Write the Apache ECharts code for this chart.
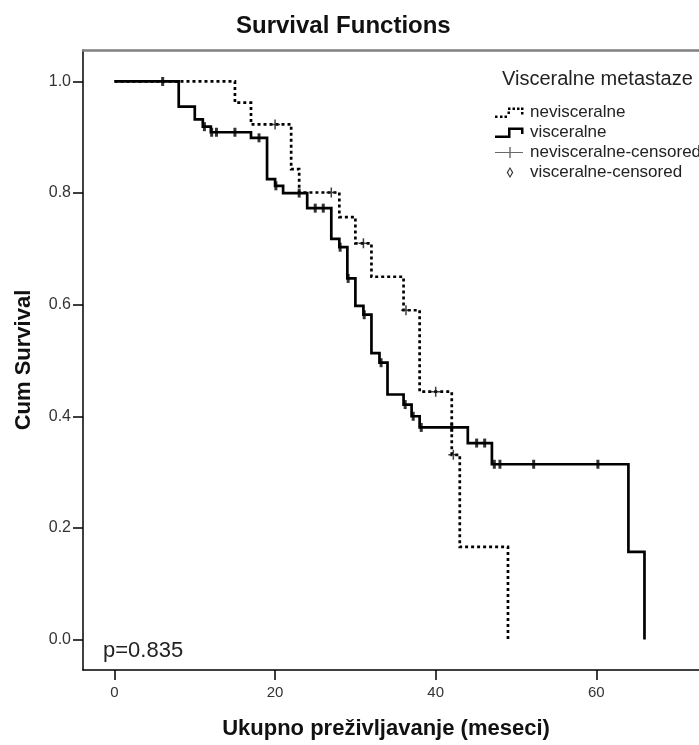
<!DOCTYPE html>
<html>
<head>
<meta charset="utf-8">
<title>Survival Functions</title>
<script src="https://cdn.jsdelivr.net/npm/echarts@6/dist/echarts.min.js"></script>
<style>
  html, body { margin: 0; padding: 0; background: #ffffff; }
  #chart { width: 699px; height: 745px; }
</style>
</head>
<body>
<div id="chart"></div>
<script>
// Kaplan-Meier estimates: event times (months) and cumulative survival after each event
const visTimes = [0, 8, 10, 11, 12, 17, 19, 20, 21, 24, 27, 28, 29, 30, 31, 32, 33, 34, 36, 37, 38, 44, 47, 64, 66];
const visSurv  = [1.0, 0.955, 0.932, 0.919, 0.909, 0.899, 0.825, 0.813, 0.800, 0.773, 0.718, 0.703, 0.647, 0.598, 0.582, 0.513, 0.496, 0.439, 0.421, 0.400, 0.380, 0.352, 0.314, 0.157, 0.0];

const nevTimes = [0, 15, 17, 22, 23, 28, 30, 32, 36, 38, 42, 43, 49];
const nevSurv  = [1.0, 0.962, 0.923, 0.843, 0.801, 0.757, 0.710, 0.650, 0.590, 0.444, 0.331, 0.166, 0.0];

// Censored observation times (months)
const visCensored = [6, 11.2, 12.1, 12.7, 15, 18, 20.1, 23, 25, 26, 28.1, 29.1, 31.1, 33.2, 36.2, 37.2, 38.2, 42, 45.1, 46.1, 47.3, 48, 52.2, 60.2];
const nevCensored = [20, 27, 31, 36.3, 40, 42.2];

const xTicks = [0, 20, 40, 60];
const yTicks = [0, 0.2, 0.4, 0.6, 0.8, 1.0];

const pValueText = 'p=0.835';
const groupTitle = 'Visceralne metastaze';
const seriesNames = ['nevisceralne', 'visceralne', 'nevisceralne-censored', 'visceralne-censored'];

// survival value of a step curve at time t
function survivalAt(times, surv, t) {
  let s = surv[0];
  for (let i = 0; i < times.length; i++) {
    if (times[i] <= t) s = surv[i];
  }
  return s;
}

const pairs = (xs, ys) => xs.map((x, i) => [x, ys[i]]);

const FONT = '"Liberation Sans", Arial, sans-serif';

// legend icons (30 x 12 boxes; the zero-length moves pin the bounding box)
const pin = 'M0,0L0,0 M30,12L30,12 ';
const iconDottedStep = 'path://' + pin +
  'M0,9H2.5V11.5H0Z M5,9H7.5V11.5H5Z M9.5,9H12V11.5H9.5Z M12.5,5H15V7.5H12.5Z ' +
  'M13,1H15.5V3.5H13Z M17.5,1H20V3.5H17.5Z M22,1H24.5V3.5H22Z M26,1H28.5V3.5H26Z M26,5.5H28.5V8H26Z';
const iconSolidStep = 'path://' + pin +
  'M0,9H15.5V11.5H0Z M13,1H15.5V11.5H13Z M13,1H28.5V3.5H13Z M26,1H28.5V7.5H26Z';
const iconPlusLine = 'path://' + pin +
  'M0,5.4H28V6.6H0Z M14.3,0.5H15.7V11.5H14.3Z';
const iconDiamond = 'path://' + pin +
  'M15,0.5L18.3,6L15,11.5L11.7,6Z M15,2.6L13.1,6L15,9.4L16.9,6Z';
const plusSymbol = 'path://M0,4.25H10V5.75H0Z M4.25,0H5.75V10H4.25Z';

const chart = echarts.init(document.getElementById('chart'), null, { renderer: 'canvas' });

const option = {
  animation: false,
  backgroundColor: '#ffffff',
  textStyle: { fontFamily: FONT },
  title: [
    {
      text: 'Survival Functions',
      left: 236, top: 14, padding: 0,
      textStyle: { fontFamily: FONT, fontSize: 24, fontWeight: 'bold', color: '#111' }
    },
    {
      text: groupTitle,
      left: 502, top: 69, padding: 0,
      textStyle: { fontFamily: FONT, fontSize: 20, fontWeight: 'normal', color: '#222' }
    }
  ],
  legend: {
    orient: 'vertical',
    left: 495, top: 104, padding: 0,
    itemWidth: 30, itemHeight: 12, itemGap: 3,
    selectedMode: false,
    symbolKeepAspect: false,
    itemStyle: { borderWidth: 0 },
    textStyle: { fontFamily: FONT, fontSize: 17, color: '#222' },
    data: [
      { name: seriesNames[0], icon: iconDottedStep },
      { name: seriesNames[1], icon: iconSolidStep },
      { name: seriesNames[2], icon: iconPlusLine, itemStyle: { color: '#444' } },
      { name: seriesNames[3], icon: iconDiamond }
    ]
  },
  grid: { left: 83, top: 50, right: 0, bottom: 71, containLabel: false },
  xAxis: [
    {
      type: 'value', min: -3.92, max: 72.79, position: 'bottom',
      name: 'Ukupno preživljavanje (meseci)',
      nameLocation: 'middle', nameGap: 48,
      nameTextStyle: { fontFamily: FONT, fontSize: 22, fontWeight: 'bold', color: '#111', padding: [0, 10, 0, 0] },
      axisLine: { show: true, onZero: false, lineStyle: { color: '#000', width: 1.5 } },
      axisTick: { show: true, length: 10, customValues: xTicks, lineStyle: { color: '#000', width: 1.5 } },
      axisLabel: { customValues: xTicks, margin: 15, fontFamily: FONT, fontSize: 15, color: '#333' },
      splitLine: { show: false }
    },
    {
      type: 'value', min: -3.92, max: 72.79, position: 'top',
      axisLine: { show: true, onZero: false, lineStyle: { color: '#808080', width: 2.5 } },
      axisTick: { show: false }, axisLabel: { show: false }, splitLine: { show: false }
    }
  ],
  yAxis: {
    type: 'value', min: -0.0547, max: 1.0564,
    name: 'Cum Survival',
    nameLocation: 'middle', nameGap: 48, nameRotate: 90,
    nameTextStyle: { fontFamily: FONT, fontSize: 22, fontWeight: 'bold', color: '#111' },
    axisLine: { show: true, onZero: false, lineStyle: { color: '#000', width: 1.5 } },
    axisTick: { show: true, length: 10, customValues: yTicks, lineStyle: { color: '#000', width: 1.5 } },
    axisLabel: {
      customValues: yTicks, margin: 12, fontFamily: FONT, fontSize: 16, color: '#333',
      formatter: v => v.toFixed(1)
    },
    splitLine: { show: false }
  },
  graphic: [
    {
      type: 'text', left: 103, top: 640,
      style: { text: pValueText, font: '22px "Liberation Sans", Arial, sans-serif', fill: '#222' }
    }
  ],
  series: [
    {
      name: seriesNames[0], type: 'line', step: 'end',
      data: pairs(nevTimes, nevSurv),
      symbol: 'none', showSymbol: false,
      itemStyle: { color: '#000' },
      lineStyle: { color: '#000', width: 2.7, type: [3, 3], cap: 'butt', join: 'miter' },
      z: 2
    },
    {
      name: seriesNames[1], type: 'line', step: 'end',
      data: pairs(visTimes, visSurv),
      symbol: 'none', showSymbol: false,
      itemStyle: { color: '#000' },
      lineStyle: { color: '#000', width: 2.7, join: 'miter' },
      z: 3
    },
    {
      name: seriesNames[2], type: 'scatter',
      data: nevCensored.map(t => [t, survivalAt(nevTimes, nevSurv, t)]),
      symbol: plusSymbol, symbolSize: 10,
      itemStyle: { color: '#111' },
      z: 4
    },
    {
      name: seriesNames[3], type: 'scatter',
      data: visCensored.map(t => [t, survivalAt(visTimes, visSurv, t)]),
      symbol: 'rect', symbolSize: [3, 9],
      itemStyle: { color: '#000' },
      z: 4
    }
  ]
};

chart.setOption(option);
</script>
</body>
</html>
